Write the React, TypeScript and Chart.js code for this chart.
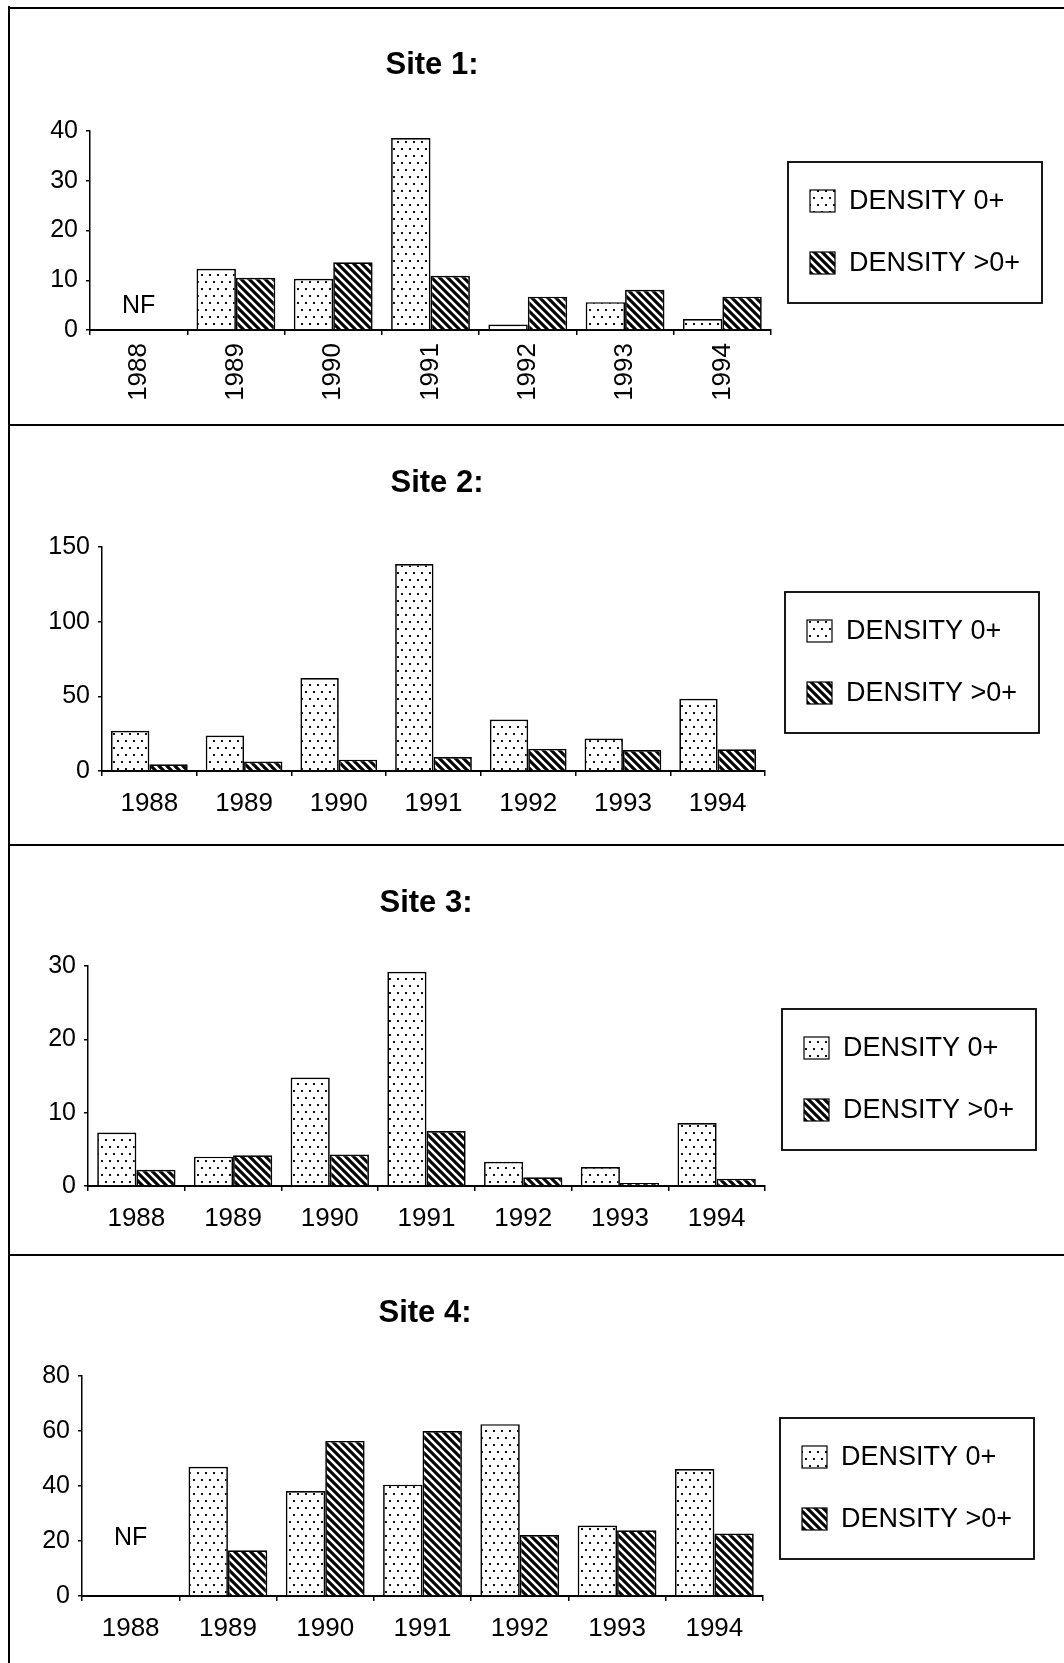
import React, { useEffect, useRef } from 'react';
import { Chart, registerables } from 'chart.js';

Chart.register(...registerables);

// ---------- data ----------
const years = ['1988', '1989', '1990', '1991', '1992', '1993', '1994'];
const seriesLabels = ['DENSITY 0+', 'DENSITY >0+'];
const siteTitles = ['Site 1:', 'Site 2:', 'Site 3:', 'Site 4:'];

const site1Density0 = [null, 12.3, 10.3, 38.6, 1.1, 5.6, 2.2];
const site1DensityGt0 = [null, 10.5, 13.6, 10.9, 6.7, 8.1, 6.7];
const site2Density0 = [26.9, 23.7, 62.2, 138.6, 34.5, 21.7, 48.4];
const site2DensityGt0 = [4.5, 6.3, 7.6, 9.4, 14.8, 14.1, 14.6];
const site3Density0 = [7.3, 4.0, 14.8, 29.2, 3.3, 2.6, 8.6];
const site3DensityGt0 = [2.2, 4.2, 4.3, 7.5, 1.2, 0.4, 1.0];
const site4Density0 = [null, 47.0, 38.2, 40.5, 62.5, 25.6, 46.2];
const site4DensityGt0 = [null, 16.6, 56.4, 60.0, 22.2, 23.9, 22.7];

const yMaxes = [40, 150, 30, 80];
const yStepSizes = [10, 50, 10, 20];
const nfText = 'NF';
const nfLabelValues = [4.8, null, null, 21]; // NF note placed at 1988, at this y value

// ---------- layout (page pixels) ----------
const FONT = '"Liberation Sans", Arial, Helvetica, sans-serif';
const PAGE_W = 1064;
const panels = [
  { top: 6, bottom: 423, left: 90, right: 771, areaTop: 131, areaBottom: 330, xH: 80, rot: 90, titleX: 432, titleY: 65, legend: { x: 788, y: 162 } },
  { top: 423, bottom: 843, left: 102, right: 765, areaTop: 547, areaBottom: 771, xH: 50, rot: 0, titleX: 437, titleY: 483, legend: { x: 785, y: 592 } },
  { top: 843, bottom: 1253, left: 88, right: 765, areaTop: 966, areaBottom: 1186, xH: 50, rot: 0, titleX: 426, titleY: 903, legend: { x: 782, y: 1009 } },
  { top: 1253, bottom: 1663, left: 82, right: 763, areaTop: 1376, areaBottom: 1596, xH: 50, rot: 0, titleX: 425, titleY: 1313, legend: { x: 780, y: 1418 } },
];
const siteData = [
  [site1Density0, site1DensityGt0],
  [site2Density0, site2DensityGt0],
  [site3Density0, site3DensityGt0],
  [site4Density0, site4DensityGt0],
];

function makeDotPattern(ctx: CanvasRenderingContext2D): CanvasPattern {
  const c = document.createElement('canvas');
  c.width = 8;
  c.height = 14;
  const g = c.getContext('2d')!;
  g.fillStyle = '#fff';
  g.fillRect(0, 0, 8, 14);
  g.fillStyle = '#111';
  g.fillRect(1, 2, 2, 2);
  g.fillRect(5, 9, 2, 2);
  return ctx.createPattern(c, 'repeat')!;
}

function makeHatchPattern(ctx: CanvasRenderingContext2D): CanvasPattern {
  const c = document.createElement('canvas');
  c.width = 8;
  c.height = 8;
  const g = c.getContext('2d')!;
  g.fillStyle = '#fff';
  g.fillRect(0, 0, 8, 8);
  g.strokeStyle = '#000';
  g.lineWidth = 3.1;
  g.beginPath();
  for (const k of [-8, 0, 8]) {
    g.moveTo(k - 2, -2);
    g.lineTo(k + 10, 10);
  }
  g.stroke();
  return ctx.createPattern(c, 'repeat')!;
}

function buildChart(canvas: HTMLCanvasElement, i: number): Chart {
  const p = panels[i];
  const ctx = canvas.getContext('2d')!;
  const dot = makeDotPattern(ctx);
  const hatch = makeHatchPattern(ctx);
  const h = p.bottom - p.top;
  const areaTop = p.areaTop - p.top;
  const areaBottom = p.areaBottom - p.top;

  const panelPlugin = {
    id: 'panelDecor' + i,
    afterDraw(chart: any) {
      const c = chart.ctx as CanvasRenderingContext2D;
      c.save();
      // frame lines
      c.strokeStyle = '#000';
      c.lineWidth = 2;
      c.beginPath();
      c.moveTo(9, 2);
      c.lineTo(PAGE_W, 2);
      c.moveTo(9, 0);
      c.lineTo(9, h);
      c.stroke();
      // title
      c.fillStyle = '#000';
      c.font = 'bold 31px ' + FONT;
      c.textAlign = 'center';
      c.textBaseline = 'middle';
      c.fillText(siteTitles[i], p.titleX, p.titleY - p.top);
      // NF note
      const nf = nfLabelValues[i];
      if (nf !== null) {
        const xs = chart.scales.x;
        const ys = chart.scales.y;
        c.font = '25px ' + FONT;
        c.fillText(nfText, xs.getPixelForValue(0), ys.getPixelForValue(nf));
      }
      // legend
      const lx = p.legend.x;
      const ly = p.legend.y - p.top;
      c.lineWidth = 1.8;
      c.strokeRect(lx, ly, 254, 141);
      const fills = [dot, hatch];
      for (let k = 0; k < 2; k++) {
        const cy = ly + 39 + k * 62;
        c.fillStyle = fills[k];
        c.fillRect(lx + 22, cy - 11, 25, 22);
        c.lineWidth = 1.2;
        c.strokeRect(lx + 22, cy - 11, 25, 22);
        c.fillStyle = '#000';
        c.font = '27px ' + FONT;
        c.textAlign = 'left';
        c.textBaseline = 'middle';
        c.fillText(seriesLabels[k], lx + 61, cy + 1);
      }
      c.restore();
    },
  };

  return new Chart(canvas, {
    type: 'bar',
    data: {
      labels: years,
      datasets: [
        {
          label: seriesLabels[0],
          data: siteData[i][0] as any,
          backgroundColor: dot as any,
          borderColor: '#000',
          borderWidth: 1.7,
          categoryPercentage: 0.81,
          barPercentage: 1,
        },
        {
          label: seriesLabels[1],
          data: siteData[i][1] as any,
          backgroundColor: hatch as any,
          borderColor: '#000',
          borderWidth: 1.7,
          categoryPercentage: 0.81,
          barPercentage: 1,
        },
      ],
    },
    options: {
      responsive: false,
      animation: false,
      devicePixelRatio: 1,
      layout: {
        padding: {
          left: 0,
          right: PAGE_W - p.right,
          top: areaTop,
          bottom: h - areaBottom - p.xH,
        },
      },
      plugins: {
        legend: { display: false },
        title: { display: false },
        tooltip: { enabled: false },
      },
      scales: {
        x: {
          offset: true,
          grid: {
            display: true,
            drawOnChartArea: false,
            drawTicks: true,
            tickLength: 5,
            color: '#000',
            lineWidth: 1.5,
            offset: true,
          },
          border: { display: true, color: '#000', width: 2 },
          ticks: {
            color: '#000',
            font: { family: FONT, size: 26 },
            padding: p.rot ? 8 : 12,
            minRotation: p.rot,
            maxRotation: p.rot,
            autoSkip: false,
          },
          afterFit: (s: any) => {
            s.height = p.xH;
          },
        },
        y: {
          min: 0,
          max: yMaxes[i],
          ticks: {
            stepSize: yStepSizes[i],
            color: '#000',
            font: { family: FONT, size: 25 },
            padding: 8,
          },
          grid: {
            display: true,
            drawOnChartArea: false,
            drawTicks: true,
            tickLength: 4,
            color: '#000',
            lineWidth: 1.5,
          },
          border: { display: true, color: '#000', width: 1.5 },
          afterFit: (s: any) => {
            s.width = p.left;
          },
        },
      },
    },
    plugins: [panelPlugin],
  });
}

export default function App() {
  const refs = [
    useRef<HTMLCanvasElement>(null),
    useRef<HTMLCanvasElement>(null),
    useRef<HTMLCanvasElement>(null),
    useRef<HTMLCanvasElement>(null),
  ];

  useEffect(() => {
    const charts: Chart[] = [];
    refs.forEach((r, i) => {
      if (r.current) charts.push(buildChart(r.current, i));
    });
    return () => {
      charts.forEach((c) => c.destroy());
    };
  }, []);

  return (
    <div
      style={{
        position: 'absolute',
        left: 0,
        top: 0,
        width: PAGE_W,
        height: 1663,
        background: '#fff',
        overflow: 'hidden',
      }}
    >
      {panels.map((p, i) => (
        <canvas
          key={i}
          ref={refs[i]}
          width={PAGE_W}
          height={p.bottom - p.top}
          style={{
            position: 'absolute',
            left: 0,
            top: p.top,
            width: PAGE_W,
            height: p.bottom - p.top,
            display: 'block',
          }}
        />
      ))}
    </div>
  );
}
